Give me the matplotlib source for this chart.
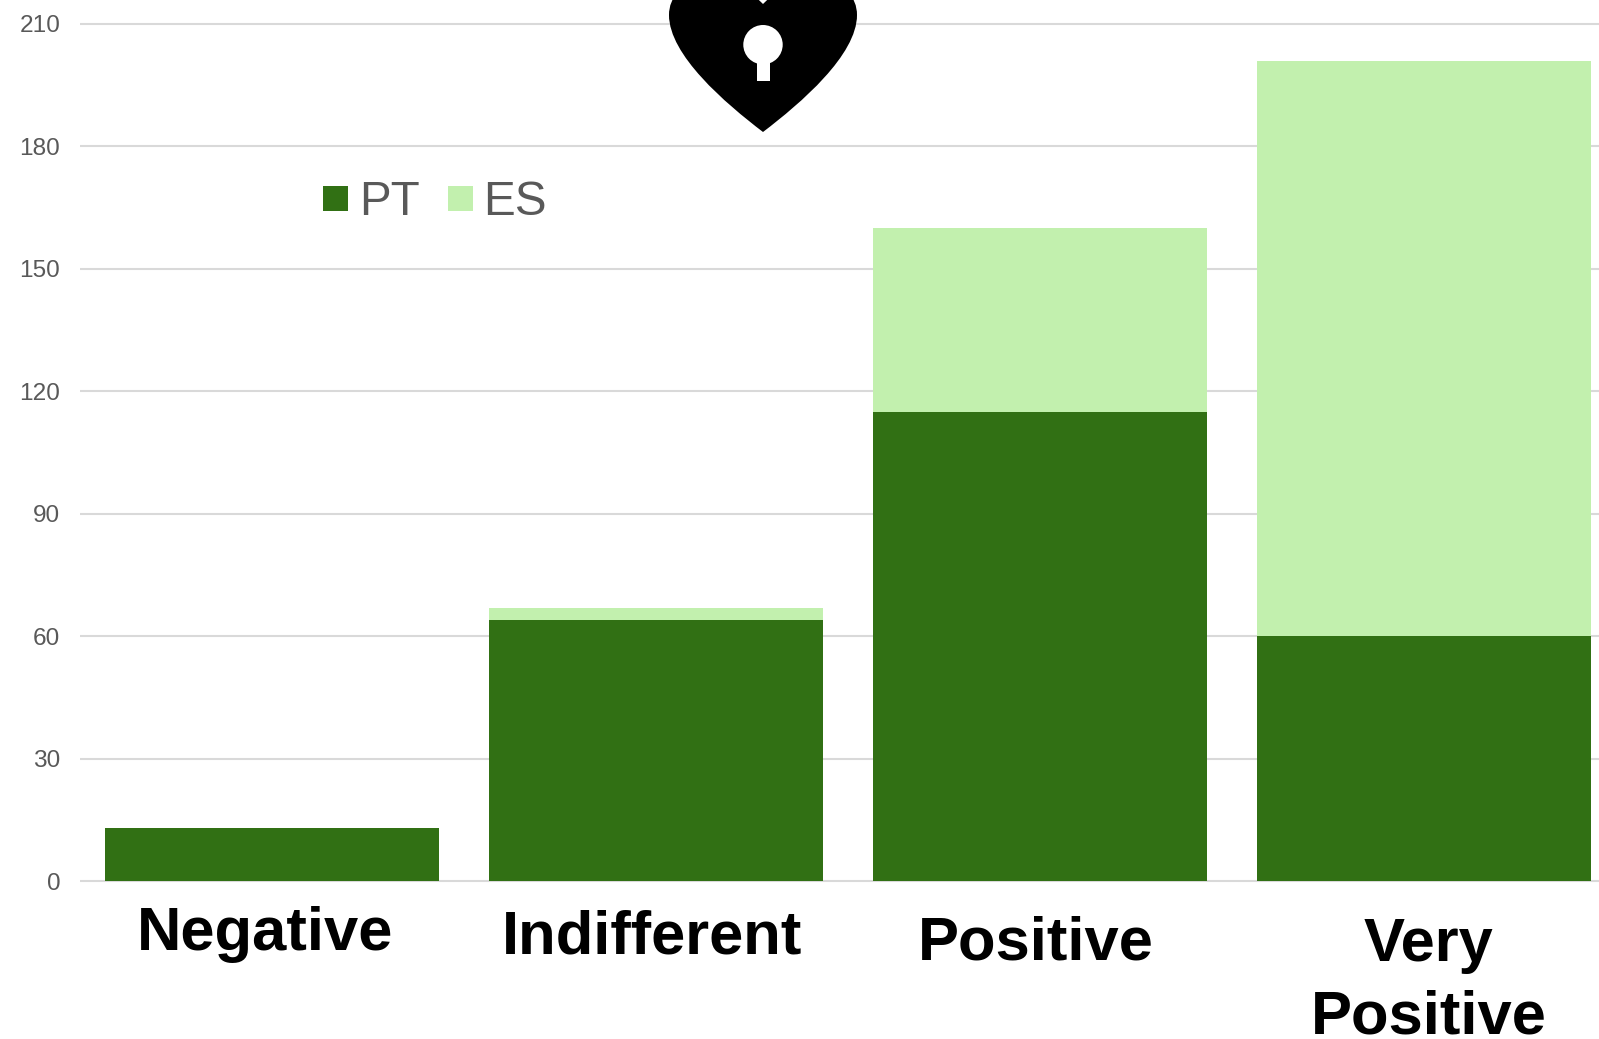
import matplotlib
matplotlib.use("Agg")
import matplotlib.pyplot as plt
from matplotlib.patches import PathPatch, Patch
from matplotlib.path import Path
from matplotlib.transforms import Affine2D, blended_transform_factory

# Survey responses per sentiment category, stacked by country
categories = ["Negative", "Indifferent", "Positive", "Very\nPositive"]
pt_values = [13, 64, 115, 60]
es_values = [0, 3, 45, 141]
y_ticks = [0, 30, 60, 90, 120, 150, 180, 210]

PT_COLOR = "#317014"
ES_COLOR = "#C2F0AE"
GRID_COLOR = "#D9D9D9"
TEXT_GREY = "#595959"

W, H = 1599, 1039
plt.rcParams["font.family"] = ["Liberation Sans", "DejaVu Sans"]

fig = plt.figure(figsize=(W / 100, H / 100), dpi=100, facecolor="white")

# The plot area runs past the right edge of the figure
left, right, top, bottom = 80.3, 1616.3, 23.8, 881.3
ax = fig.add_axes([left / W, 1 - bottom / H, (right - left) / W, (bottom - top) / H])
ax.set_xlim(-0.5, 3.5)
ax.set_ylim(0, 210)
for side in ax.spines.values():
    side.set_visible(False)

ax.set_axisbelow(True)
ax.set_yticks(y_ticks)
ax.set_yticklabels([str(v) for v in y_ticks], fontsize=17.6, color=TEXT_GREY)
ax.tick_params(axis="y", length=0, pad=14.5)
ax.tick_params(axis="x", length=0, labelbottom=False)
ax.set_xticks(range(len(categories)))
ax.grid(axis="y", color=GRID_COLOR, linewidth=1.5)
ax.grid(axis="x", visible=False)
for line in ax.get_ygridlines():
    line.set_clip_on(False)
    line.set_solid_capstyle("butt")

positions = list(range(len(categories)))
ax.bar(positions, pt_values, width=0.87, color=PT_COLOR, label="PT", zorder=2)
ax.bar(positions, es_values, width=0.87, bottom=pt_values, color=ES_COLOR, label="ES", zorder=2)

# Category captions sit at slightly different spots under each bar
caption_dx = [-7.5, -4.5, -4.5, 4.6]
caption_baseline_px = [950, 954, 959.5, 960.5]
x_data_y_fig = blended_transform_factory(ax.transData, fig.transFigure)
for pos, name, dx, base in zip(positions, categories, caption_dx, caption_baseline_px):
    first_line, *rest = name.split("\n")
    offset = Affine2D().translate(dx, 0)
    ax.text(pos, 1 - base / H, first_line, transform=x_data_y_fig + offset,
            ha="center", va="baseline", fontsize=44.3, fontweight="bold", color="black", clip_on=False)
    for i, extra in enumerate(rest, start=1):
        ax.text(pos, 1 - (base + 72.5 * i) / H, extra, transform=x_data_y_fig + offset,
                ha="center", va="baseline", fontsize=44.3, fontweight="bold", color="black", clip_on=False)

handles = [Patch(facecolor=PT_COLOR, label="PT"), Patch(facecolor=ES_COLOR, label="ES")]
fig.legend(handles=handles, loc="center left", bbox_to_anchor=(323.3 / W, 1 - 202.8 / H),
           ncol=2, frameon=False, fontsize=34.3, labelcolor=TEXT_GREY, borderpad=0, borderaxespad=0,
           handlelength=0.525, handleheight=0.44, handletextpad=0.22, columnspacing=0.6)

# Heart-shaped padlock ornament, cut off by the top edge of the figure
to_px = Affine2D().scale(1, -1).translate(0, H)
cx = 763
heart_verts = [
    (cx, 132),
    (cx - 38, 103), (cx - 94, 55), (cx - 94, 15),
    (cx - 94, -22), (cx - 40, -36), (cx, 4),
    (cx + 40, -36), (cx + 94, -22), (cx + 94, 15),
    (cx + 94, 55), (cx + 38, 103), (cx, 132),
]
heart_codes = [Path.MOVETO] + [Path.CURVE4] * 12
heart_path = Path(heart_verts, heart_codes)
fig.add_artist(PathPatch(heart_path, facecolor="black", edgecolor="none", transform=to_px))

# Keyhole cut into the heart
circle = Path.unit_circle()
keyhole = circle.transformed(Affine2D().scale(19.7).translate(cx, 44.7))
fig.add_artist(PathPatch(keyhole, facecolor="white", edgecolor="none", transform=to_px))
stem = Path([(cx - 6.5, 55), (cx + 6.5, 55), (cx + 6.5, 80.7), (cx - 6.5, 80.7), (cx - 6.5, 55)])
fig.add_artist(PathPatch(stem, facecolor="white", edgecolor="none", transform=to_px))

fig.savefig("out.png", dpi=100, facecolor="white")
